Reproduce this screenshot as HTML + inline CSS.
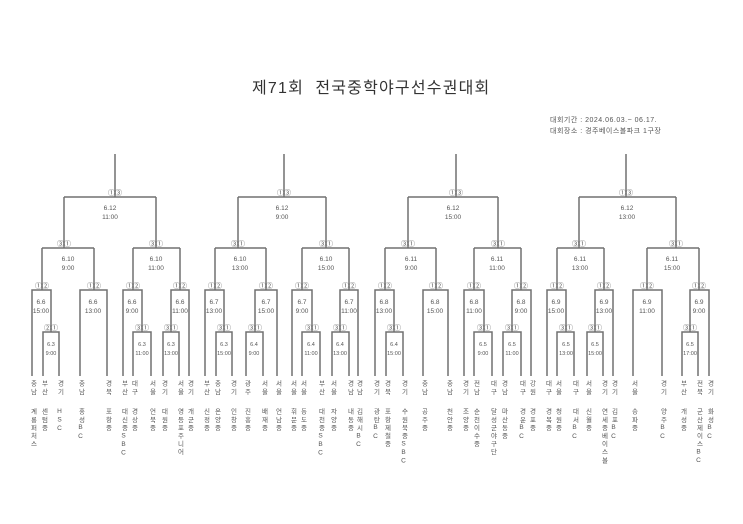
<!DOCTYPE html>
<html><head><meta charset="utf-8"><style>
body{margin:0;width:743px;height:524px;background:#fff;position:relative;overflow:hidden;font-family:"Liberation Sans","Noto Sans CJK KR",sans-serif;}
.t{position:absolute;left:252px;top:74px;font-size:16px;color:#333;white-space:nowrap;letter-spacing:1.2px}
.i{position:absolute;left:550px;font-size:7px;color:#555;white-space:nowrap;letter-spacing:0.5px}
.v{position:absolute;width:10px;writing-mode:vertical-rl;text-orientation:upright;font-size:6.5px;line-height:10px;letter-spacing:1.6px;color:#555;white-space:nowrap}
svg{position:absolute;left:0;top:0}
svg text{font-family:"Liberation Sans","Noto Sans CJK KR",sans-serif;fill:#555;text-anchor:middle}
</style></head><body>
<div class="t">제71회&nbsp; 전국중학야구선수권대회</div>
<div class="i" style="top:115px">대회기간 : 2024.06.03.~ 06.17.</div>
<div class="i" style="top:126px">대회장소 : 경주베이스볼파크 1구장</div>
<svg width="743" height="524" viewBox="0 0 743 524">
<g fill="none" stroke="#707070" stroke-width="1.5">
<path d="M32 376V290H51V332M43 376V332H59V376M42 290V248M80 376V290H107V376M94 290V248M123 376V290H142V332M133 376V332H151V376M133 290V248M171 332V290H189V376M163 376V332H179V376M180 290V248M42 248H94M133 248H180M64 248V197M156 248V197M64 197H156M115 197V154"/>
<path d="M205 376V290H224V332M216 376V332H232V376M215 290V248M255 332V290H277V376M246 376V332H263V376M266 290V248M292 376V290H312V332M302 376V332H320V376M302 290V248M340 332V290H358V376M332 376V332H349V376M349 290V248M215 248H266M302 248H349M238 248V197M326 248V197M238 197H326M284 197V154"/>
<path d="M375 376V290H394V332M386 376V332H403V376M385 290V248M423 376V290H448V376M436 290V248M464 376V290H484V332M474 376V332H492V376M474 290V248M512 332V290H531V376M503 376V332H521V376M521 290V248M385 248H436M474 248H521M408 248V197M498 248V197M408 197H498M456 197V154"/>
<path d="M547 376V290H566V332M557 376V332H574V376M557 290V248M595 332V290H613V376M587 376V332H603V376M604 290V248M633 376V290H662V376M647 290V248M690 332V290H709V376M682 376V332H698V376M699 290V248M557 248H604M647 248H699M579 248V197M676 248V197M579 197H676M626 197V154"/>
</g>
<g font-size="6.5">
<text x="110" y="210">6.12</text><text x="110" y="219">11:00</text>
<text x="282" y="210">6.12</text><text x="282" y="219">9:00</text>
<text x="453" y="210">6.12</text><text x="453" y="219">15:00</text>
<text x="627" y="210">6.12</text><text x="627" y="219">13:00</text>
<text x="68" y="261">6.10</text><text x="68" y="270">9:00</text>
<text x="156" y="261">6.10</text><text x="156" y="270">11:00</text>
<text x="240" y="261">6.10</text><text x="240" y="270">13:00</text>
<text x="326" y="261">6.10</text><text x="326" y="270">15:00</text>
<text x="411" y="261">6.11</text><text x="411" y="270">9:00</text>
<text x="497" y="261">6.11</text><text x="497" y="270">11:00</text>
<text x="580" y="261">6.11</text><text x="580" y="270">13:00</text>
<text x="672" y="261">6.11</text><text x="672" y="270">15:00</text>
</g>
<g font-size="6.5">
<text x="41" y="304">6.6</text><text x="41" y="313">15:00</text>
<text x="93" y="304">6.6</text><text x="93" y="313">13:00</text>
<text x="132" y="304">6.6</text><text x="132" y="313">9:00</text>
<text x="180" y="304">6.6</text><text x="180" y="313">11:00</text>
<text x="214" y="304">6.7</text><text x="214" y="313">13:00</text>
<text x="266" y="304">6.7</text><text x="266" y="313">15:00</text>
<text x="302" y="304">6.7</text><text x="302" y="313">9:00</text>
<text x="349" y="304">6.7</text><text x="349" y="313">11:00</text>
<text x="384" y="304">6.8</text><text x="384" y="313">13:00</text>
<text x="435" y="304">6.8</text><text x="435" y="313">15:00</text>
<text x="474" y="304">6.8</text><text x="474" y="313">11:00</text>
<text x="521" y="304">6.8</text><text x="521" y="313">9:00</text>
<text x="556" y="304">6.9</text><text x="556" y="313">15:00</text>
<text x="604" y="304">6.9</text><text x="604" y="313">13:00</text>
<text x="647" y="304">6.9</text><text x="647" y="313">11:00</text>
<text x="699" y="304">6.9</text><text x="699" y="313">9:00</text>
</g>
<g font-size="5.5">
<text x="51" y="346">6.3</text><text x="51" y="355">9:00</text>
<text x="142" y="346">6.3</text><text x="142" y="355">11:00</text>
<text x="171" y="346">6.3</text><text x="171" y="355">13:00</text>
<text x="224" y="346">6.3</text><text x="224" y="355">15:00</text>
<text x="254" y="346">6.4</text><text x="254" y="355">9:00</text>
<text x="311" y="346">6.4</text><text x="311" y="355">11:00</text>
<text x="340" y="346">6.4</text><text x="340" y="355">13:00</text>
<text x="394" y="346">6.4</text><text x="394" y="355">15:00</text>
<text x="483" y="346">6.5</text><text x="483" y="355">9:00</text>
<text x="512" y="346">6.5</text><text x="512" y="355">11:00</text>
<text x="566" y="346">6.5</text><text x="566" y="355">13:00</text>
<text x="595" y="346">6.5</text><text x="595" y="355">15:00</text>
<text x="690" y="346">6.5</text><text x="690" y="355">17:00</text>
</g>
<g font-size="7">
<text x="115" y="195">①③</text><text x="284" y="195">①③</text><text x="456" y="195">①③</text><text x="626" y="195">①③</text>
<text x="64" y="246">③①</text><text x="156" y="246">③①</text><text x="238" y="246">③①</text><text x="326" y="246">③①</text>
<text x="408" y="246">③①</text><text x="498" y="246">③①</text><text x="579" y="246">③①</text><text x="676" y="246">③①</text>
<text x="42" y="288">①②</text><text x="94" y="288">①②</text><text x="133" y="288">①②</text><text x="180" y="288">①②</text>
<text x="215" y="288">①②</text><text x="266" y="288">①②</text><text x="302" y="288">①②</text><text x="349" y="288">①②</text>
<text x="385" y="288">①②</text><text x="436" y="288">①②</text><text x="474" y="288">①②</text><text x="521" y="288">①②</text>
<text x="557" y="288">①②</text><text x="604" y="288">①②</text><text x="647" y="288">①②</text><text x="699" y="288">①②</text>
<text x="51" y="330">②①</text><text x="142" y="330">③①</text><text x="171" y="330">③①</text>
<text x="224" y="330">③①</text><text x="255" y="330">③①</text><text x="312" y="330">③①</text><text x="340" y="330">③①</text>
<text x="394" y="330">③①</text><text x="484" y="330">③①</text><text x="512" y="330">③①</text>
<text x="566" y="330">③①</text><text x="595" y="330">③①</text><text x="690" y="330">③①</text>
</g>
</svg>
<div class="v" style="left:27px;top:380px">충남</div><div class="v" style="left:27px;top:408px">계룡퍼처스</div>
<div class="v" style="left:38px;top:380px">부산</div><div class="v" style="left:38px;top:408px">센텀중</div>
<div class="v" style="left:54px;top:380px">경기</div><div class="v" style="left:54px;top:408px">HSC</div>
<div class="v" style="left:75px;top:380px">충남</div><div class="v" style="left:75px;top:408px">홍성BC</div>
<div class="v" style="left:102px;top:380px">경북</div><div class="v" style="left:102px;top:408px">포항중</div>
<div class="v" style="left:118px;top:380px">부산</div><div class="v" style="left:118px;top:408px">대신중SBC</div>
<div class="v" style="left:128px;top:380px">대구</div><div class="v" style="left:128px;top:408px">경상중</div>
<div class="v" style="left:146px;top:380px">서울</div><div class="v" style="left:146px;top:408px">언북중</div>
<div class="v" style="left:158px;top:380px">경기</div><div class="v" style="left:158px;top:408px">대원중</div>
<div class="v" style="left:174px;top:380px">서울</div><div class="v" style="left:174px;top:408px">영등포주니어</div>
<div class="v" style="left:184px;top:380px">경기</div><div class="v" style="left:184px;top:408px">개군중</div>
<div class="v" style="left:200px;top:380px">부산</div><div class="v" style="left:200px;top:408px">신정중</div>
<div class="v" style="left:211px;top:380px">충남</div><div class="v" style="left:211px;top:408px">온양중</div>
<div class="v" style="left:227px;top:380px">경기</div><div class="v" style="left:227px;top:408px">인창중</div>
<div class="v" style="left:241px;top:380px">광주</div><div class="v" style="left:241px;top:408px">진흥중</div>
<div class="v" style="left:258px;top:380px">서울</div><div class="v" style="left:258px;top:408px">배재중</div>
<div class="v" style="left:272px;top:380px">서울</div><div class="v" style="left:272px;top:408px">언남중</div>
<div class="v" style="left:287px;top:380px">서울</div><div class="v" style="left:287px;top:408px">휘문중</div>
<div class="v" style="left:297px;top:380px">서울</div><div class="v" style="left:297px;top:408px">동도중</div>
<div class="v" style="left:315px;top:380px">부산</div><div class="v" style="left:315px;top:408px">대천중SBC</div>
<div class="v" style="left:327px;top:380px">서울</div><div class="v" style="left:327px;top:408px">자양중</div>
<div class="v" style="left:344px;top:380px">경남</div><div class="v" style="left:344px;top:408px">내동중</div>
<div class="v" style="left:353px;top:380px">경남</div><div class="v" style="left:353px;top:408px">김해시BC</div>
<div class="v" style="left:370px;top:380px">경기</div><div class="v" style="left:370px;top:408px">광탄BC</div>
<div class="v" style="left:381px;top:380px">경북</div><div class="v" style="left:381px;top:408px">포항제철중</div>
<div class="v" style="left:398px;top:380px">경기</div><div class="v" style="left:398px;top:408px">수원북중SBC</div>
<div class="v" style="left:418px;top:380px">충남</div><div class="v" style="left:418px;top:408px">공주중</div>
<div class="v" style="left:443px;top:380px">충남</div><div class="v" style="left:443px;top:408px">천안중</div>
<div class="v" style="left:459px;top:380px">경기</div><div class="v" style="left:459px;top:408px">조양중</div>
<div class="v" style="left:470px;top:380px">전남</div><div class="v" style="left:470px;top:408px">순천이수중</div>
<div class="v" style="left:487px;top:380px">대구</div><div class="v" style="left:487px;top:408px">달성군야구단</div>
<div class="v" style="left:498px;top:380px">경남</div><div class="v" style="left:498px;top:408px">마산동중</div>
<div class="v" style="left:516px;top:380px">대구</div><div class="v" style="left:516px;top:408px">경운BC</div>
<div class="v" style="left:526px;top:380px">강원</div><div class="v" style="left:526px;top:408px">경포중</div>
<div class="v" style="left:542px;top:380px">대구</div><div class="v" style="left:542px;top:408px">경복중</div>
<div class="v" style="left:552px;top:380px">서울</div><div class="v" style="left:552px;top:408px">청원중</div>
<div class="v" style="left:569px;top:380px">대구</div><div class="v" style="left:569px;top:408px">대서BC</div>
<div class="v" style="left:582px;top:380px">서울</div><div class="v" style="left:582px;top:408px">신월중</div>
<div class="v" style="left:598px;top:380px">경기</div><div class="v" style="left:598px;top:408px">연세중베이스볼</div>
<div class="v" style="left:608px;top:380px">경기</div><div class="v" style="left:608px;top:408px">김포BC</div>
<div class="v" style="left:628px;top:380px">서울</div><div class="v" style="left:628px;top:408px">송파중</div>
<div class="v" style="left:657px;top:380px">경기</div><div class="v" style="left:657px;top:408px">양주BC</div>
<div class="v" style="left:677px;top:380px">부산</div><div class="v" style="left:677px;top:408px">개성중</div>
<div class="v" style="left:693px;top:380px">전북</div><div class="v" style="left:693px;top:408px">군산제이스BC</div>
<div class="v" style="left:704px;top:380px">경기</div><div class="v" style="left:704px;top:408px">화성BC</div>
</body></html>
